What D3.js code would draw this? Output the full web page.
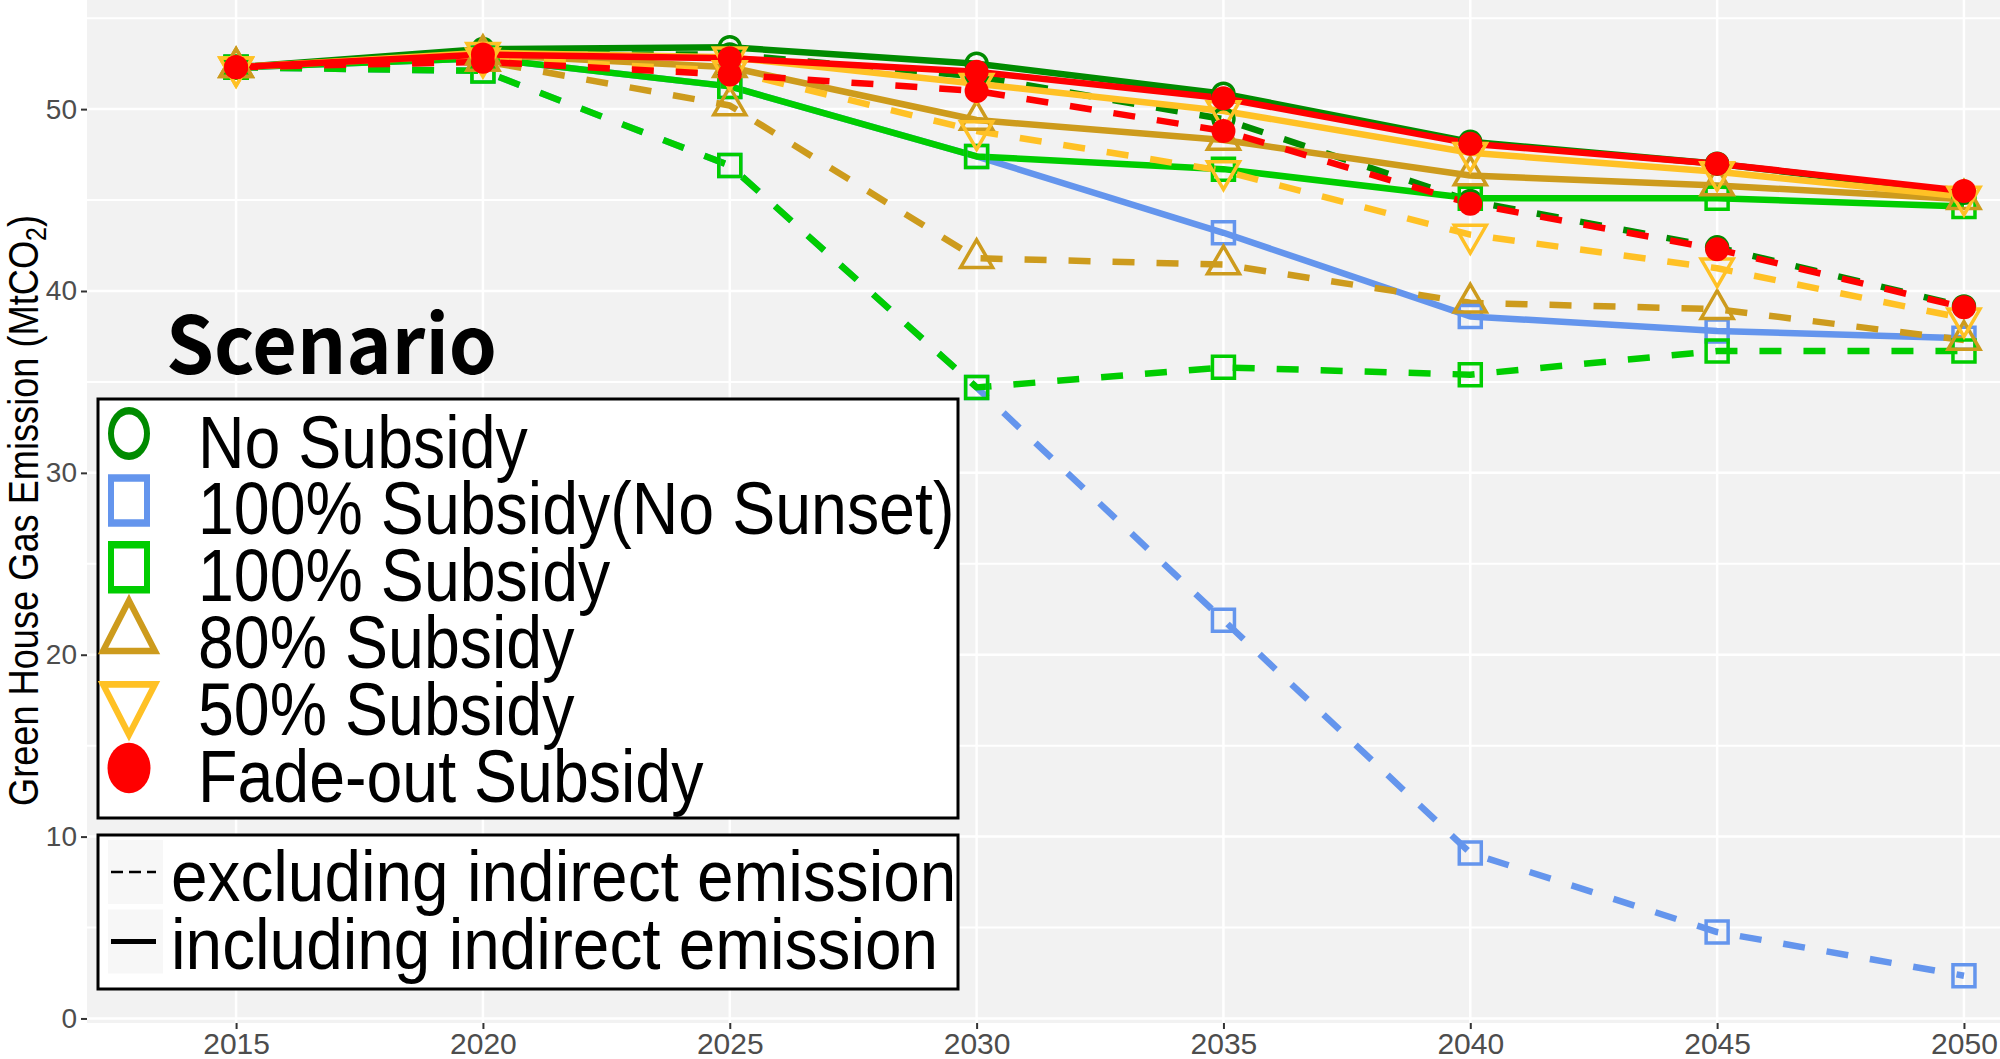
<!DOCTYPE html>
<html>
<head>
<meta charset="utf-8">
<script src="https://cdn.jsdelivr.net/npm/d3@7"></script>
<style>
  body { margin: 0; background: #fff; }
  svg { display: block; }
</style>
</head>
<body>
<div id="chart-area"></div>
<script>
/*
*    Green house gas emission by subsidy scenario
*/

// Data
const years = [2015, 2020, 2025, 2030, 2035, 2040, 2045, 2050]
const scenarios = ["No Subsidy", "100% Subsidy(No Sunset)", "100% Subsidy",
  "80% Subsidy", "50% Subsidy", "Fade-out Subsidy"]
const emissionTypes = ["excluding indirect emission", "including indirect emission"]
const yTickValues = [0, 10, 20, 30, 40, 50]

// including indirect emission (solid lines)
const noSubsidyIncl = [52.3, 53.3, 53.4, 52.5, 50.85, 48.2, 47.0, 45.4]
const full100NoSunsetIncl = [52.3, 52.8, 51.25, 47.4, 43.2, 38.6, 37.8, 37.4]
const full100Incl = [52.3, 52.8, 51.25, 47.4, 46.7, 45.1, 45.1, 44.65]
const sub80Incl = [52.3, 53.0, 52.3, 49.4, 48.3, 46.35, 45.8, 45.05]
const sub50Incl = [52.3, 53.1, 52.85, 51.4, 49.9, 47.6, 46.55, 45.2]
const fadeOutIncl = [52.3, 53.0, 52.8, 52.05, 50.6, 48.1, 47.0, 45.5]

// excluding indirect emission (dashed lines)
const noSubsidyExcl = [52.3, 53.0, 53.0, 51.8, 49.45, 44.95, 42.4, 39.15]
const full100NoSunsetExcl = [52.3, 52.1, 46.9, 34.7, 21.9, 9.1, 4.75, 2.35]
const full100Excl = [52.3, 52.1, 46.9, 34.7, 35.8, 35.4, 36.7, 36.7]
const sub80Excl = [52.3, 52.65, 50.2, 41.8, 41.45, 39.35, 39.0, 37.3]
const sub50Excl = [52.3, 52.8, 52.1, 48.8, 46.6, 43.1, 41.25, 38.5]
const fadeOutExcl = [52.3, 52.6, 51.9, 51.0, 48.8, 44.8, 42.3, 39.1]

const inclValues = [noSubsidyIncl, full100NoSunsetIncl, full100Incl, sub80Incl, sub50Incl, fadeOutIncl]
const exclValues = [noSubsidyExcl, full100NoSunsetExcl, full100Excl, sub80Excl, sub50Excl, fadeOutExcl]

// Styles
const colors = ["#008B00", "#6495ED", "#00CD00", "#CD9B1D", "#FFC125", "#FF0000"]
const shapes = ["circle", "square", "square", "triangle", "triangleDown", "dot"]

const WIDTH = 2000
const HEIGHT = 1059
const PANEL = { LEFT: 87, RIGHT: 2000, TOP: 0, BOTTOM: 1023 }
const FONT = "'Liberation Sans', Arial, sans-serif"

// build series table
const series = []
scenarios.forEach((s, i) => {
  series.push({ scenario: s, idx: i, type: "excl",
    values: years.map((yr, j) => ({ year: yr, value: exclValues[i][j] })) })
  series.push({ scenario: s, idx: i, type: "incl",
    values: years.map((yr, j) => ({ year: yr, value: inclValues[i][j] })) })
})

const svg = d3.select("#chart-area").append("svg")
  .attr("width", WIDTH)
  .attr("height", HEIGHT)
  .style("background", "#fff")

// Scales
const x = d3.scaleLinear()
  .domain([2011.98, 2050.73])
  .range([PANEL.LEFT, PANEL.RIGHT])
const y = d3.scaleLinear()
  .domain([-0.25, 56.0])
  .range([PANEL.BOTTOM, PANEL.TOP])

// Panel
svg.append("rect")
  .attr("x", PANEL.LEFT)
  .attr("y", PANEL.TOP)
  .attr("width", PANEL.RIGHT - PANEL.LEFT)
  .attr("height", PANEL.BOTTOM - PANEL.TOP)
  .attr("fill", "#F2F2F2")

// Grid
const grid = svg.append("g")
grid.selectAll(".minor").data(d3.range(5, 56, 10)).join("line")
  .attr("class", "minor")
  .attr("x1", PANEL.LEFT).attr("x2", PANEL.RIGHT)
  .attr("y1", d => y(d)).attr("y2", d => y(d))
  .attr("stroke", "#fff").attr("stroke-width", 2)
grid.selectAll(".hmajor").data(yTickValues).join("line")
  .attr("class", "hmajor")
  .attr("x1", PANEL.LEFT).attr("x2", PANEL.RIGHT)
  .attr("y1", d => y(d)).attr("y2", d => y(d))
  .attr("stroke", "#fff").attr("stroke-width", 2.5)
grid.selectAll(".vmajor").data(years).join("line")
  .attr("class", "vmajor")
  .attr("x1", d => x(d)).attr("x2", d => x(d))
  .attr("y1", PANEL.TOP).attr("y2", PANEL.BOTTOM)
  .attr("stroke", "#fff").attr("stroke-width", 2.5)

// Axes
const xAxisCall = d3.axisBottom(x)
  .tickValues(years)
  .tickFormat(d3.format("d"))
  .tickSize(6)
  .tickPadding(4)
const xAxis = svg.append("g")
  .attr("transform", `translate(0, ${PANEL.BOTTOM})`)
  .call(xAxisCall)
xAxis.select(".domain").remove()
xAxis.selectAll("line").attr("stroke", "#333").attr("stroke-width", 2)
xAxis.selectAll("text")
  .attr("font-family", FONT)
  .attr("font-size", "30px")
  .attr("fill", "#4D4D4D")

const yAxisCall = d3.axisLeft(y)
  .tickValues(yTickValues)
  .tickSize(6)
  .tickPadding(4)
const yAxis = svg.append("g")
  .attr("transform", `translate(${PANEL.LEFT}, 0)`)
  .call(yAxisCall)
yAxis.select(".domain").remove()
yAxis.selectAll("line").attr("stroke", "#333").attr("stroke-width", 2)
yAxis.selectAll("text")
  .attr("font-family", FONT)
  .attr("font-size", "28px")
  .attr("fill", "#4D4D4D")

// Y label
const yLabel = svg.append("text")
  .attr("transform", "translate(38, 510.5) rotate(-90)")
  .attr("text-anchor", "middle")
  .attr("font-family", FONT)
  .attr("font-size", "42px")
  .attr("fill", "#000")
  .attr("textLength", 591)
  .attr("lengthAdjust", "spacingAndGlyphs")
yLabel.append("tspan").text("Green House Gas Emission (MtCO")
yLabel.append("tspan").attr("font-size", "29px").attr("dy", 8).text("2")
yLabel.append("tspan").attr("dy", -8).text(")")

// Lines
const line = d3.line()
  .x(d => x(d.year))
  .y(d => y(d.value))

svg.append("g").selectAll("path").data(series).join("path")
  .attr("d", d => line(d.values))
  .attr("fill", "none")
  .attr("stroke", d => colors[d.idx])
  .attr("stroke-width", 6.5)
  .attr("stroke-linejoin", "round")
  .attr("stroke-dasharray", d => d.type === "excl" ? "22,22" : null)

// Points
function symbolPath(shape) {
  if (shape === "circle") return d3.symbol(d3.symbolCircle, Math.PI * 10.5 * 10.5)()
  if (shape === "dot") return d3.symbol(d3.symbolCircle, Math.PI * 12 * 12)()
  if (shape === "square") return d3.symbol(d3.symbolSquare, 22 * 22)()
  return d3.symbol(d3.symbolTriangle, Math.sqrt(3) / 4 * 32 * 32)()
}

const points = []
series.forEach(s => s.values.forEach(v => points.push({ idx: s.idx, year: v.year, value: v.value })))
// draw scenario by scenario so the later ones sit on top
points.sort((a, b) => a.idx - b.idx)

svg.append("g").selectAll("path").data(points).join("path")
  .attr("d", d => symbolPath(shapes[d.idx]))
  .attr("transform", d => `translate(${x(d.year)}, ${y(d.value)})` +
    (shapes[d.idx] === "triangleDown" ? " rotate(180)" : ""))
  .attr("fill", d => shapes[d.idx] === "dot" ? colors[d.idx] : "none")
  .attr("stroke", d => shapes[d.idx] === "dot" ? "none" : colors[d.idx])
  .attr("stroke-width", 3.5)

// Legend title
svg.append("text")
  .attr("x", 166)
  .attr("y", 373.6)
  .attr("font-family", "'Noto Sans CJK KR', 'Noto Sans', sans-serif")
  .attr("font-weight", "bold")
  .attr("font-size", "80px")
  .attr("textLength", 331)
  .attr("lengthAdjust", "spacingAndGlyphs")
  .attr("fill", "#000")
  .text("Scenario")

// Scenario legend
const legend1 = svg.append("g")
legend1.append("rect")
  .attr("x", 98).attr("y", 399)
  .attr("width", 860).attr("height", 419)
  .attr("fill", "#fff").attr("stroke", "#000").attr("stroke-width", 3)

const legendScale = { circle: [1, 1.26], dot: [1, 1.17], square: [1, 1.25], triangle: [1, 1.12], triangleDown: [1, 1.12] }
const legendRow = legend1.selectAll(".row").data(scenarios).join("g")
  .attr("class", "row")
  .attr("transform", (d, i) => `translate(0, ${433.5 + i * 66.9})`)

legendRow.append("path")
  .attr("d", (d, i) => {
    const sh = shapes[i]
    if (sh === "circle") return d3.symbol(d3.symbolCircle, Math.PI * 18 * 18)()
    if (sh === "dot") return d3.symbol(d3.symbolCircle, Math.PI * 21.5 * 21.5)()
    if (sh === "square") return d3.symbol(d3.symbolSquare, 36 * 36)()
    return d3.symbol(d3.symbolTriangle, Math.sqrt(3) / 4 * 52 * 52)()
  })
  .attr("transform", (d, i) => {
    const s = legendScale[shapes[i]]
    return `translate(129, 0) scale(${s[0]}, ${s[1]})` + (shapes[i] === "triangleDown" ? " rotate(180)" : "")
  })
  .attr("fill", (d, i) => shapes[i] === "dot" ? colors[i] : "none")
  .attr("stroke", (d, i) => shapes[i] === "dot" ? "none" : colors[i])
  .attr("stroke-width", 6)

legendRow.append("text")
  .attr("transform", "translate(198, 34) scale(0.86, 1)")
  .attr("font-family", FONT)
  .attr("font-size", "75px")
  .attr("fill", "#000")
  .text(d => d)

// Line type legend
const legend2 = svg.append("g")
legend2.append("rect")
  .attr("x", 98).attr("y", 835)
  .attr("width", 860).attr("height", 154)
  .attr("fill", "#fff").attr("stroke", "#000").attr("stroke-width", 3)

const typeRow = legend2.selectAll(".trow").data(emissionTypes).join("g")
  .attr("class", "trow")
  .attr("transform", (d, i) => `translate(0, ${872 + i * 69.5})`)

typeRow.append("rect")
  .attr("x", 108).attr("y", -32)
  .attr("width", 55).attr("height", 64)
  .attr("fill", "#F7F7F7")

typeRow.append("line")
  .attr("x1", 111).attr("x2", 156)
  .attr("stroke", "#000")
  .attr("stroke-width", (d, i) => i === 0 ? 2.5 : 5)
  .attr("stroke-dasharray", (d, i) => i === 0 ? "12,6" : null)

typeRow.append("text")
  .attr("transform", (d, i) => `translate(171, ${i === 0 ? 29 : 27}) scale(0.913, 1)`)
  .attr("font-family", FONT)
  .attr("font-size", "72px")
  .attr("fill", "#000")
  .text(d => d)
</script>
</body>
</html>
